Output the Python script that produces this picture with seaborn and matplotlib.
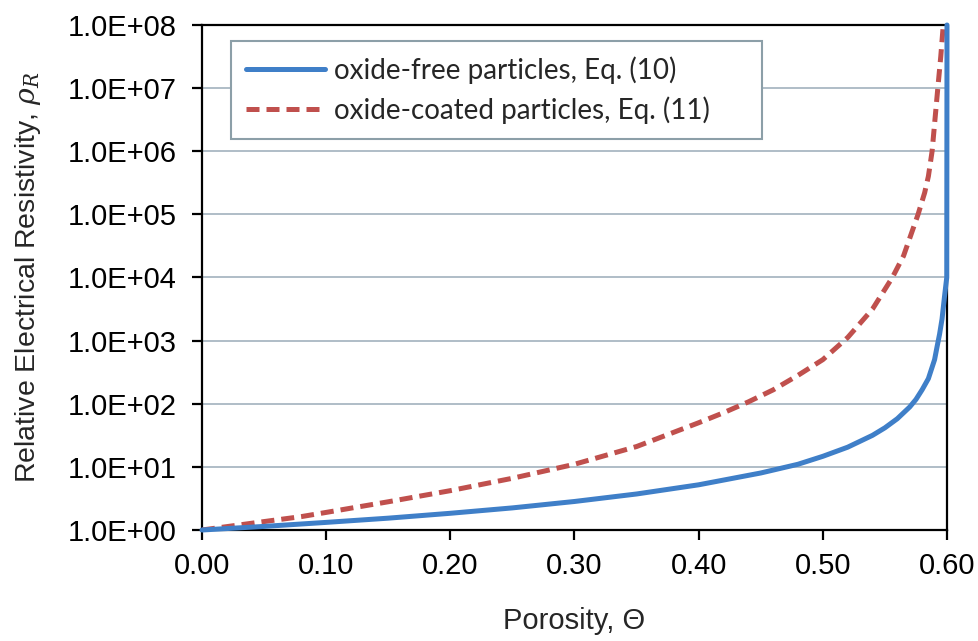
import pandas as pd
import matplotlib
matplotlib.use("Agg")
import matplotlib.pyplot as plt
from matplotlib.ticker import FuncFormatter, NullLocator, FixedLocator
import seaborn as sns

# values
porosity_free = [0.00, 0.05, 0.10, 0.15, 0.20, 0.25, 0.30, 0.35, 0.40, 0.45,
                 0.48, 0.50, 0.52, 0.54, 0.55, 0.56, 0.57, 0.575, 0.58, 0.585,
                 0.59, 0.592, 0.594, 0.596, 0.598, 0.5998, 0.60]
rho_free = [1.0, 1.14, 1.32, 1.54, 1.84, 2.24, 2.83, 3.72, 5.2, 8.0,
            11.0, 14.7, 20.5, 31.6, 41.6, 58, 89, 117, 167, 250,
            500, 800, 1260, 2200, 5000, 1.0e4, 1.0e8]

porosity_coated = [0.00, 0.05, 0.08, 0.10, 0.15, 0.20, 0.25, 0.30, 0.35, 0.40,
                   0.42, 0.44, 0.46, 0.48, 0.50, 0.52, 0.54, 0.556, 0.565,
                   0.5767, 0.582, 0.585, 0.588, 0.5926, 0.595, 0.597]
rho_coated = [1.0, 1.36, 1.63, 1.9, 2.8, 4.2, 6.6, 11, 21, 50,
              72, 107, 166, 282, 500, 1120, 3160, 1.0e4, 2.2e4,
              1.0e5, 2.2e5, 4.0e5, 1.0e6, 1.0e7, 3.2e7, 1.0e8]

label_free = "oxide-free particles, Eq. (10)"
label_coated = "oxide-coated particles, Eq. (11)"
x_ticks = [0.0, 0.1, 0.2, 0.3, 0.4, 0.5, 0.6]
y_ticks = [1e0, 1e1, 1e2, 1e3, 1e4, 1e5, 1e6, 1e7, 1e8]

df_free = pd.DataFrame({"porosity": porosity_free, "rho": rho_free})
df_coated = pd.DataFrame({"porosity": porosity_coated, "rho": rho_coated})

sns.set_style("ticks")
plt.rcParams["font.family"] = ["Liberation Sans", "DejaVu Sans"]
plt.rcParams["mathtext.fontset"] = "dejavuserif"

fig = plt.figure(figsize=(9.79, 6.41), dpi=100)
ax = fig.add_axes([202 / 979, 1 - 530 / 641, 745 / 979, 505 / 641])

sns.lineplot(data=df_free, x="porosity", y="rho", ax=ax, color="#3F7FC8",
             lw=3.6, sort=False, estimator=None, label=label_free,
             clip_on=False, zorder=4)
sns.lineplot(data=df_coated, x="porosity", y="rho", ax=ax, color="#C0504D",
             lw=3.6, sort=False, estimator=None, label=label_coated,
             dashes=False, zorder=3)
ax.lines[1].set_dashes([2.6, 1.4])
ax.lines[1].set_dash_capstyle("butt")

ax.set_yscale("log")
ax.set_xlim(0, 0.6)
ax.set_ylim(1, 1e8)
ax.xaxis.set_major_locator(FixedLocator(x_ticks))
ax.yaxis.set_major_locator(FixedLocator(y_ticks))
ax.yaxis.set_minor_locator(NullLocator())
ax.xaxis.set_major_formatter(FuncFormatter(lambda v, p: f"{v:.2f}"))
ax.yaxis.set_major_formatter(FuncFormatter(lambda v, p: f"{v:.1E}"))

ax.yaxis.grid(True, color="#A9B8C3", lw=1.3)
ax.xaxis.grid(False)
ax.set_axisbelow(True)
for s in ax.spines.values():
    s.set_color("black")
    s.set_linewidth(1.6)
ax.tick_params(axis="both", direction="out", length=7, width=1.6,
               labelsize=21, colors="black")
ax.tick_params(axis="y", pad=11)
ax.tick_params(axis="x", pad=9)

ax.set_xlabel("Porosity, Θ", fontsize=21, labelpad=19)
ax.set_ylabel(r"Relative Electrical Resistivity, $\rho_R$", fontsize=20.5,
              labelpad=18)

# legend box spans x 231-762 px, y 41-135 px in the reference
leg = ax.legend(loc="upper left", mode="expand",
                bbox_to_anchor=(29 / 745, 489 / 505, 531 / 745, 0),
                borderaxespad=0, fancybox=False, framealpha=1,
                edgecolor="#8C9FA8", handlelength=2.85, handletextpad=0.3,
                labelspacing=0.45, borderpad=0.55,
                prop={"family": "Lato", "size": 20})
leg.get_frame().set_linewidth(1.5)

fig.savefig("out.png", dpi=100)
